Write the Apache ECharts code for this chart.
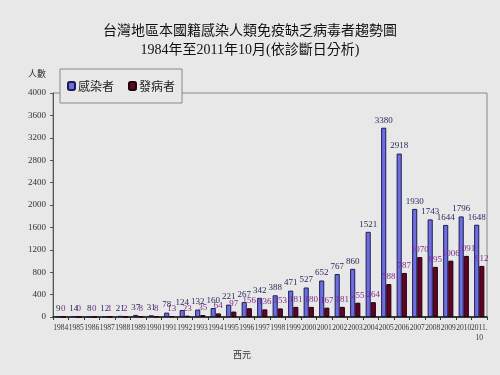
<!DOCTYPE html>
<html><head><meta charset="utf-8">
<script src="https://cdn.jsdelivr.net/npm/echarts@6/dist/echarts.min.js"></script>
<style>html,body{margin:0;padding:0;background:#e8e8e8;}#c{width:500px;height:375px;}</style>
</head><body><div id="c"></div>
<script>
const years = ['1984','1985','1986','1987','1988','1989','1990','1991','1992','1993','1994','1995','1996','1997','1998','1999','2000','2001','2002','2003','2004','2005','2006','2007','2008','2009','2010','2011.\n10'];
const infected = [9,14,8,12,21,37,31,78,124,132,160,221,267,342,388,471,527,652,767,860,1521,3380,2918,1930,1743,1644,1796,1648];
const onset = [0,0,0,1,2,8,8,13,23,35,64,97,156,136,153,181,180,167,181,255,264,588,787,1070,895,1006,1091,912];
const yTicks = [0,400,800,1200,1600,2000,2400,2800,3200,3600,4000];
const titleText = '台灣地區本國籍感染人類免疫缺乏病毒者趨勢圖';
const subText = '1984年至2011年10月(依診斷日分析)';
const serif = '"Liberation Serif","Noto Sans CJK TC",serif';
const chart = echarts.init(document.getElementById('c'));
chart.setOption({
  backgroundColor:'#e8e8e8',
  animation:false,
  title:[
    {text:titleText,left:'center',top:18,textStyle:{fontFamily:'"Noto Sans CJK TC"',fontSize:14,fontWeight:'normal',color:'#111'}},
    {text:subText,left:'center',top:38,textStyle:{fontFamily:serif,fontSize:14,fontWeight:'normal',color:'#111'}}
  ],
  legend:{
    left:60,top:69,padding:[11,7],itemGap:14,itemWidth:7,itemHeight:8,borderRadius:0,
    backgroundColor:'#e8e8e8',borderColor:'#888',borderWidth:1,z:10,
    textStyle:{fontFamily:'"Noto Sans CJK TC"',fontSize:12,color:'#222',padding:[0,0,0,-2]},
    data:['感染者','發病者']
  },
  graphic:[
    {type:'text',left:28,top:69,style:{text:'人數',font:'9px "Noto Sans CJK TC"',fill:'#333'}},
    {type:'text',left:233,top:350,style:{text:'西元',font:'9px "Noto Sans CJK TC"',fill:'#333'}}
  ],
  grid:{left:53,right:13,top:93,bottom:58,show:true,borderColor:'#888',borderWidth:1,backgroundColor:'transparent'},
  xAxis:{type:'category',data:years,
    axisLine:{lineStyle:{color:'#111',width:1.5}},
    axisTick:{show:true,length:3,lineStyle:{color:'#333'}},
    axisLabel:{interval:0,fontFamily:serif,fontSize:7.5,color:'#333',margin:6,lineHeight:10}},
  yAxis:{type:'value',min:0,max:4000,interval:400,
    axisLine:{show:true,lineStyle:{color:'#555'}},
    axisTick:{show:true,length:3,lineStyle:{color:'#555'}},
    splitLine:{show:false},
    axisLabel:{fontFamily:serif,fontSize:9,color:'#333',margin:7,
      formatter:v=>yTicks.includes(v)?String(v):''}},
  series:[
    {name:'感染者',type:'bar',data:infected,barWidth:'33%',barGap:'0%',
     itemStyle:{color:'#6e6ee0',borderColor:'#1c1c55',borderWidth:1},
     label:{show:true,position:'top',distance:3,fontFamily:serif,fontSize:9,color:'#2a2a5e'}},
    {name:'發病者',type:'bar',data:onset,barWidth:'33%',
     itemStyle:{color:'#650028',borderColor:'#1a0008',borderWidth:1},
     label:{show:true,position:'top',distance:3,fontFamily:serif,fontSize:9,color:'#7a2a8c'}}
  ]
});
</script></body></html>
